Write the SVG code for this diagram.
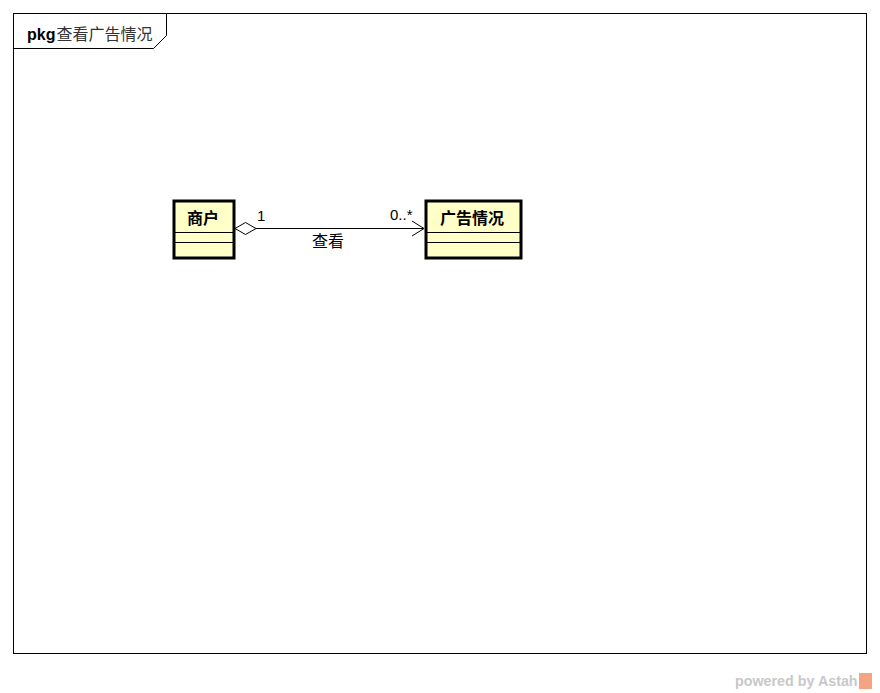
<svg xmlns="http://www.w3.org/2000/svg" width="880" height="693" viewBox="0 0 880 693">
<style>
.t{font-family:"Liberation Sans","Noto Sans CJK SC",sans-serif;font-size:15px;fill:#000}
.c{font-family:"Noto Sans CJK SC",sans-serif;font-size:16px;fill:#000}
.b{font-weight:bold}
.cls{fill:#ffffc8;stroke:#000;stroke-width:3}
.sep{stroke:#000;stroke-width:1}
.ln{stroke:#000;stroke-width:1;fill:none}
</style>
<rect x="0" y="0" width="880" height="693" fill="#fff"/>
<g id="frame">
<rect x="13.5" y="13.5" width="853" height="640" fill="none" stroke="#000"/>
<path d="M13.5 48.5 H153.5 L166.5 35.5 V13.5" fill="none" stroke="#000"/>
<text x="27" y="40" class="t"><tspan class="b" font-size="16">pkg</tspan><tspan dx="1" font-family="Noto Sans CJK SC, sans-serif" font-size="16" fill="#333">查看广告情况</tspan></text>
</g>
<g id="node-shanghu">
<rect x="174" y="201" width="60" height="57" class="cls"/>
<line x1="174" y1="232.5" x2="234" y2="232.5" class="sep"/>
<line x1="174" y1="242.5" x2="234" y2="242.5" class="sep"/>
<text x="203" y="224" class="c b" text-anchor="middle">商户</text>
</g>
<g id="node-guanggao">
<rect x="426" y="201" width="95" height="57" class="cls"/>
<line x1="426" y1="232.5" x2="521" y2="232.5" class="sep"/>
<line x1="426" y1="242.5" x2="521" y2="242.5" class="sep"/>
<text x="472" y="224" class="c b" text-anchor="middle">广告情况</text>
</g>
<g id="connectors">
<line x1="256" y1="228.5" x2="424" y2="228.5" class="ln"/>
<path d="M235 228.5 L245.5 222.5 L256 228.5 L245.5 234.5 Z" fill="#fff" stroke="#000"/>
<path d="M412 221 L424 228.5 L412 236" class="ln"/>
<text x="257" y="221" class="t" fill="#333">1</text>
<text x="390" y="220" class="t" fill="#333">0..*</text>
<text x="328" y="247" class="c" font-size="15" fill="#333" text-anchor="middle">查看</text>
</g>
<g id="watermark">
<text x="735" y="686" font-family="Liberation Sans, sans-serif" font-size="14.3" font-weight="bold" fill="#c8c8c8">powered by Astah</text>
<rect x="859" y="673" width="13" height="16" fill="#f4a383"/>
</g>
</svg>
